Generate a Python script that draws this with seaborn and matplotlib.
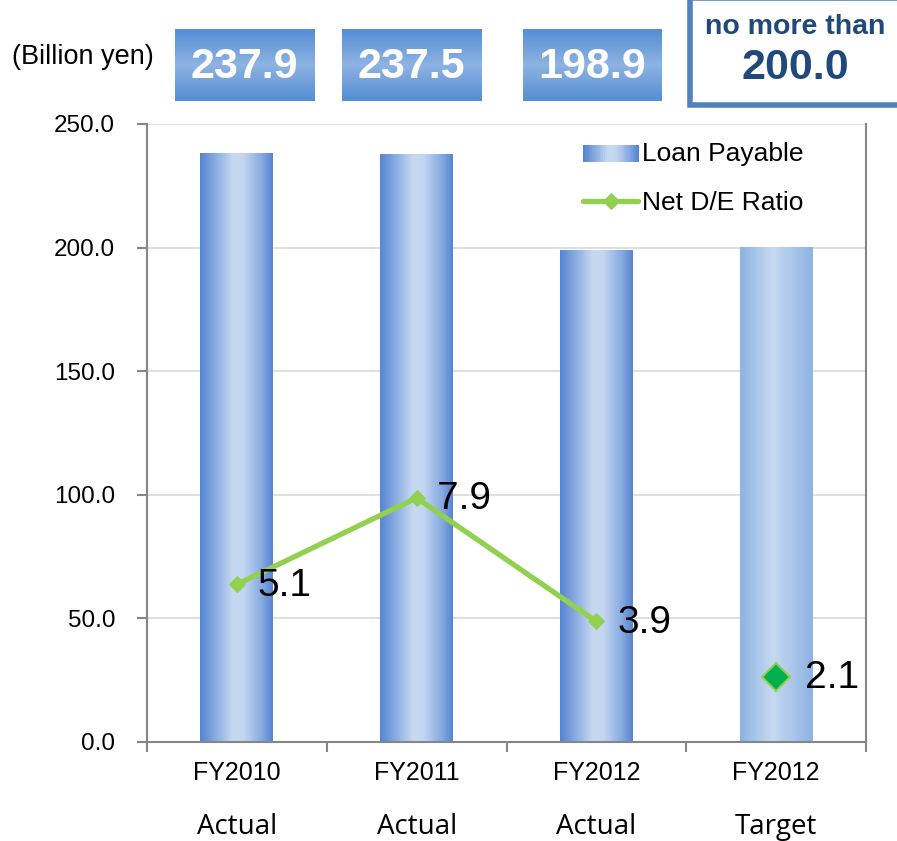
import numpy as np
import pandas as pd
import matplotlib
matplotlib.use("Agg")
import matplotlib.pyplot as plt
import seaborn as sns
from matplotlib.colors import LinearSegmentedColormap
from matplotlib.patches import Rectangle
from matplotlib.legend_handler import HandlerBase

# Data
years = ["FY2010", "FY2011", "FY2012", "FY2012"]
kinds = ["Actual", "Actual", "Actual", "Target"]
loan_payable = [237.9, 237.5, 198.9, 200.0]
loan_labels = ["237.9", "237.5", "198.9"]
de_ratio = [5.1, 7.9, 3.9]
de_target = 2.1

sns.set_style("white")
plt.rcParams["font.family"] = ["Liberation Sans", "DejaVu Sans"]
plt.rcParams["text.color"] = "black"
plt.rcParams["ytick.labelcolor"] = "black"

W, H = 897, 841
fig = plt.figure(figsize=(W / 100, H / 100), dpi=100)
ax = fig.add_axes([147 / W, 1 - 742 / H, (866 - 147) / W, (742 - 124) / H])

df = pd.DataFrame({"cat": [f"{y}\n{k}" for y, k in zip(years, kinds)], "loan": loan_payable})
sns.barplot(data=df, x="cat", y="loan", ax=ax, width=0.405, color="#6f9be0", zorder=2)

# gradient fills on bars
actual_cmap = LinearSegmentedColormap.from_list("a", [(0, "#5585d4"), (0.2, "#86a9e0"), (0.45, "#c6d9f1"),
                                                      (0.6, "#c3d6f0"), (0.85, "#86a9e0"), (1, "#5585d4")])
target_cmap = LinearSegmentedColormap.from_list("t", [(0, "#8db3e2"), (0.45, "#c6d9f1"), (1, "#8db3e2")])
grad = np.linspace(0, 1, 256).reshape(1, -1)
for i, p in enumerate(ax.patches):
    x0, w, h = p.get_x(), p.get_width(), p.get_height()
    cmap = target_cmap if kinds[i] == "Target" else actual_cmap
    ax.imshow(grad, cmap=cmap, extent=[x0, x0 + w, 0, h], aspect="auto", zorder=2.5)
    p.set_visible(False)

ax.set_xlim(-0.5, 3.5)
ax.set_ylim(0, 250)
ax.set_yticks(np.arange(0, 251, 50))
ax.set_yticklabels([f"{v:.1f}" for v in np.arange(0, 251, 50)], fontsize=17.5)
ax.yaxis.grid(True, color="#d9d9d9", linewidth=1.2, zorder=0)
ax.set_axisbelow(True)
ax.set_xlabel("")
ax.set_ylabel("")
for s in ["left", "right", "bottom"]:
    ax.spines[s].set_color("#868686")
    ax.spines[s].set_linewidth(1.5)
ax.spines["top"].set_visible(False)
ax.tick_params(axis="y", length=7, color="#868686", width=1.5, pad=16, direction="out", left=True)
ax.set_xticks([-0.5, 0.5, 1.5, 2.5, 3.5])
ax.set_xticklabels([])
ax.tick_params(axis="x", length=7, color="#868686", width=1.5, direction="out", bottom=True)
for i, (y, k) in enumerate(zip(years, kinds)):
    ax.annotate(y, (i, 0), xycoords=("data", "axes fraction"), xytext=(0, -22),
                textcoords="offset points", ha="center", va="center", fontsize=18)
    ax.annotate(k, (i, 0), xycoords=("data", "axes fraction"), xytext=(0, -61),
                textcoords="offset points", ha="center", va="center", fontsize=20,
                family=["Open Sans", "DejaVu Sans"])

# secondary axis for D/E ratio
ax2 = ax.twinx()
ax2.set_ylim(0, 20)
ax2.set_yticks([])
for s in ax2.spines.values():
    s.set_visible(False)
sns.lineplot(x=[0, 1, 2], y=de_ratio, ax=ax2, color="#92d050", linewidth=3.8, marker="D",
             markersize=8, markeredgecolor="#92d050", zorder=5, label="Net D/E Ratio", legend=False)
ax2.plot([3], [de_target], marker="D", markersize=14, color="#00b050", markeredgecolor="#92d050",
         markeredgewidth=1.5, linestyle="none", zorder=6)
for i, v in enumerate(de_ratio + [de_target]):
    dx = 21 if i == 3 else 15
    ax2.annotate(f"{v}", (i, v), xytext=(dx, -1), textcoords="offset points", fontsize=28,
                 ha="left", va="center", zorder=7)


class GradHandler(HandlerBase):
    def create_artists(self, legend, orig, xd, yd, w, h, fontsize, trans):
        arts = []
        n = 30
        for j in range(n):
            c = actual_cmap(j / (n - 1))
            arts.append(Rectangle((xd + w * j / n, yd), w / n + 0.3, h, facecolor=c, edgecolor="none",
                                  transform=trans))
        return arts


bar_handle = Rectangle((0, 0), 1, 1)
line_handle = ax2.lines[0]
leg = ax2.legend([bar_handle, line_handle], ["Loan Payable", "Net D/E Ratio"],
                 handler_map={Rectangle: GradHandler()}, loc="upper left",
                 bbox_to_anchor=(583 / W, 1 - 142 / H), bbox_transform=fig.transFigure,
                 frameon=False, fontsize=19, handlelength=2.1, borderpad=0, borderaxespad=0,
                 handleheight=0.6, labelspacing=0.95, handletextpad=0.15)

# header labels
fig.text(12 / W, 1 - 57 / H, "(Billion yen)", fontsize=19.5, ha="left", va="center")
box_cmap = LinearSegmentedColormap.from_list("b", ["#558ed5", "#8db3e2", "#558ed5"])
box_pos = [(175, 314), (342, 481), (523, 662)]
for (x0, x1), lab in zip(box_pos, loan_labels):
    bax = fig.add_axes([x0 / W, 1 - 101 / H, (x1 - x0) / W, (101 - 29) / H])
    bax.imshow(np.linspace(0, 1, 64).reshape(-1, 1), cmap=box_cmap, aspect="auto", extent=[0, 1, 0, 1])
    bax.set_axis_off()
    bax.text(0.5, 0.47, lab, ha="center", va="center", color="white", fontsize=31,
             fontweight="bold")

fig.patches.append(Rectangle((690 / W, 1 - 105 / H), 220 / W, 107 / H, transform=fig.transFigure,
                             facecolor="white", edgecolor="#4f81bd", linewidth=4))
fig.text(795 / W, 1 - 27 / H, "no more than", ha="center", va="center", fontsize=20.5,
         fontweight="bold", color="#1f497d")
fig.text(795 / W, 1 - 68 / H, "200.0", ha="center", va="center", fontsize=31,
         fontweight="bold", color="#1f497d")

fig.savefig("out.png", dpi=100)
